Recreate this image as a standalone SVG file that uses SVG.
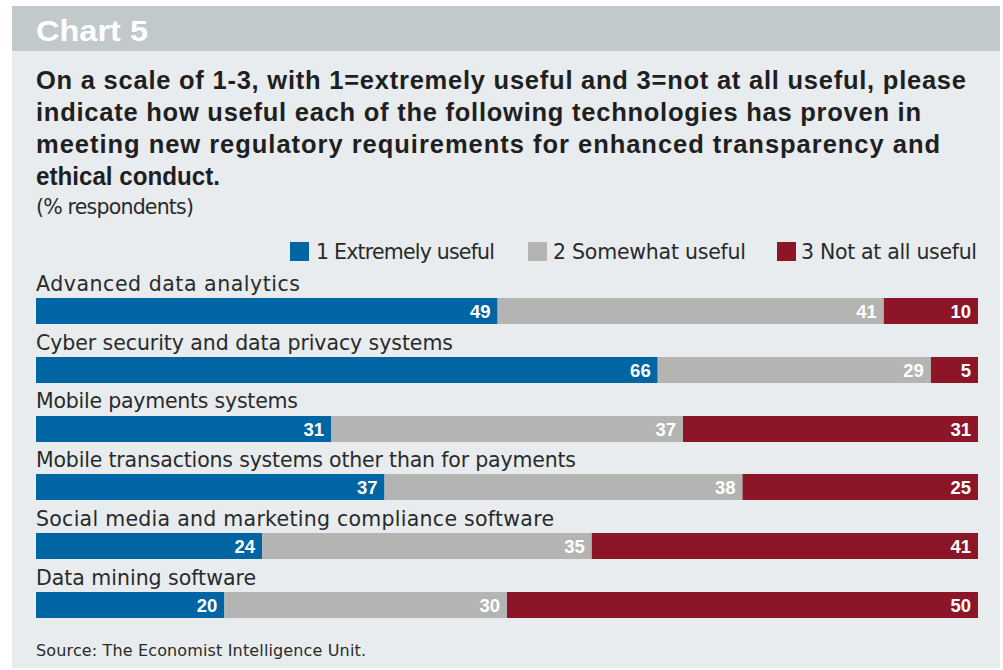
<svg xmlns="http://www.w3.org/2000/svg" width="1003" height="670" viewBox="0 0 1003 670">
<style>
.hdr{font-family:"Liberation Sans",Arial,sans-serif;font-weight:bold;font-size:30px;fill:#ffffff}
.ttl{font-family:"Liberation Sans",Arial,sans-serif;font-weight:bold;font-size:25.5px;fill:#1f1f1f}
.txt{font-family:"DejaVu Sans","Liberation Sans",sans-serif;font-size:20.5px;fill:#2a2a2a}
.src{font-family:"DejaVu Sans","Liberation Sans",sans-serif;font-size:16px;fill:#2a2a2a}
.val{font-family:"Liberation Sans",Arial,sans-serif;font-weight:bold;font-size:18.5px;fill:#ffffff;text-anchor:end}
.b{fill:#0065a3}
.g{fill:#b4b4b2}
.r{fill:#8c1628}
</style>
<rect x="0" y="0" width="1003" height="670" fill="#ffffff"/>
<rect x="12" y="6" width="988" height="662" fill="#e8ecee"/>
<rect x="12" y="6" width="988" height="45" fill="#c1c9cb"/>
<text class="hdr" x="36" y="41" textLength="112" lengthAdjust="spacingAndGlyphs">Chart 5</text>
<g id="title">
<text class="ttl" x="36" y="89" textLength="930">On a scale of 1-3, with 1=extremely useful and 3=not at all useful, please</text>
<text class="ttl" x="36" y="121" textLength="885">indicate how useful each of the following technologies has proven in</text>
<text class="ttl" x="36" y="153" textLength="904">meeting new regulatory requirements for enhanced transparency and</text>
<text class="ttl" x="36" y="185" textLength="184" lengthAdjust="spacingAndGlyphs">ethical conduct.</text>
</g>
<text class="txt" x="36" y="214" textLength="158">(% respondents)</text>
<g id="legend">
<rect class="b" x="290" y="242" width="19" height="19"/>
<text class="txt" x="316" y="259" textLength="179">1 Extremely useful</text>
<rect class="g" x="528" y="242" width="19" height="19"/>
<text class="txt" x="553" y="259" textLength="193">2 Somewhat useful</text>
<rect class="r" x="777" y="242" width="19" height="19"/>
<text class="txt" x="801" y="259" textLength="176">3 Not at all useful</text>
</g>
<g id="row1">
<text class="txt" x="36" y="291" textLength="264">Advanced data analytics</text>
<rect class="b" x="36" y="298" width="461.6" height="26"/>
<rect class="g" x="497.6" y="298" width="386.2" height="26"/>
<rect class="r" x="883.8" y="298" width="94.2" height="26"/>
<text class="val" x="490.6" y="317.5">49</text>
<text class="val" x="876.8" y="317.5">41</text>
<text class="val" x="971" y="317.5">10</text>
</g>
<g id="row2">
<text class="txt" x="36" y="350" textLength="417">Cyber security and data privacy systems</text>
<rect class="b" x="36" y="357" width="621.7" height="26"/>
<rect class="g" x="657.7" y="357" width="273.2" height="26"/>
<rect class="r" x="930.9" y="357" width="47.1" height="26"/>
<text class="val" x="650.7" y="376.5">66</text>
<text class="val" x="923.9" y="376.5">29</text>
<text class="val" x="971" y="376.5">5</text>
</g>
<g id="row3">
<text class="txt" x="36" y="408" textLength="262">Mobile payments systems</text>
<rect class="b" x="36" y="416" width="295" height="26"/>
<rect class="g" x="331" y="416" width="352" height="26"/>
<rect class="r" x="683" y="416" width="295" height="26"/>
<text class="val" x="324" y="435.5">31</text>
<text class="val" x="676" y="435.5">37</text>
<text class="val" x="971" y="435.5">31</text>
</g>
<g id="row4">
<text class="txt" x="36" y="467" textLength="540">Mobile transactions systems other than for payments</text>
<rect class="b" x="36" y="474" width="348.5" height="26"/>
<rect class="g" x="384.5" y="474" width="358" height="26"/>
<rect class="r" x="742.5" y="474" width="235.5" height="26"/>
<text class="val" x="377.5" y="493.5">37</text>
<text class="val" x="735.5" y="493.5">38</text>
<text class="val" x="971" y="493.5">25</text>
</g>
<g id="row5">
<text class="txt" x="36" y="526" textLength="518">Social media and marketing compliance software</text>
<rect class="b" x="36" y="533" width="226.1" height="26"/>
<rect class="g" x="262.1" y="533" width="329.7" height="26"/>
<rect class="r" x="591.8" y="533" width="386.2" height="26"/>
<text class="val" x="255.1" y="552.5">24</text>
<text class="val" x="584.8" y="552.5">35</text>
<text class="val" x="971" y="552.5">41</text>
</g>
<g id="row6">
<text class="txt" x="36" y="585" textLength="220">Data mining software</text>
<rect class="b" x="36" y="592" width="188.4" height="26"/>
<rect class="g" x="224.4" y="592" width="282.6" height="26"/>
<rect class="r" x="507" y="592" width="471" height="26"/>
<text class="val" x="217.4" y="611.5">20</text>
<text class="val" x="500" y="611.5">30</text>
<text class="val" x="971" y="611.5">50</text>
</g>
<g id="connectors"/>
<text class="src" x="36" y="656" textLength="330">Source: The Economist Intelligence Unit.</text>
</svg>
